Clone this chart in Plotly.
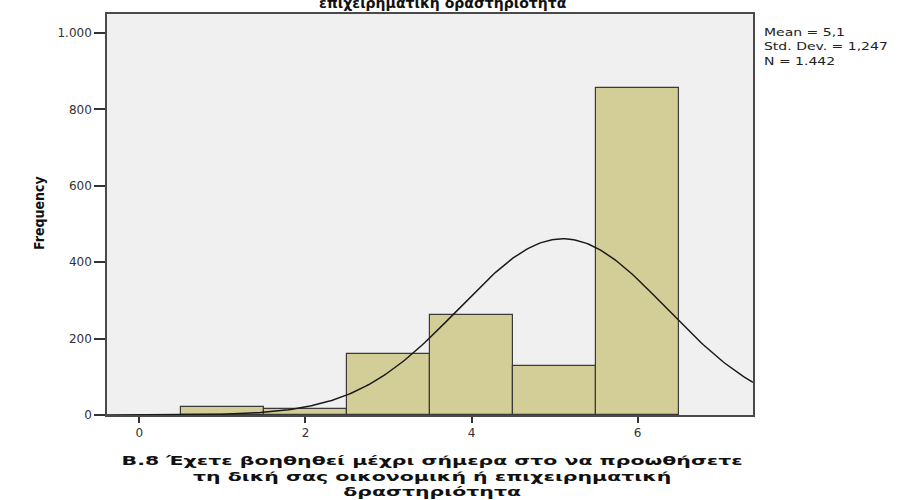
import numpy as np
import plotly.graph_objects as go

# Data
categories = [1, 2, 3, 4, 5, 6]
frequencies = [22, 15, 160, 262, 128, 855]
x_tick_vals = [0, 2, 4, 6]
x_tick_text = ["0", "2", "4", "6"]
y_tick_vals = [0, 200, 400, 600, 800, 1000]
y_tick_text = ["0", "200", "400", "600", "800", "1.000"]

# Summary statistics shown on the chart
mean_val = 5.1
std_val = 1.247
n_val = 1442
bin_width = 1.0
stats_lines = ["Mean = 5,1", "Std. Dev. = 1,247", "N = 1.442"]

x_title_lines = ["Β.8 Έχετε βοηθηθεί μέχρι σήμερα στο να προωθήσετε",
                 "τη δική σας οικονομική ή επιχειρηματική",
                 "δραστηριότητα"]
top_title_visible = "επιχειρηματική δραστηριότητα"

x_range = [-0.39, 7.39]
y_range = [0, 1050]

curve_x = np.linspace(x_range[0], x_range[1], 300)
curve_y = n_val * bin_width * np.exp(-0.5 * ((curve_x - mean_val) / std_val) ** 2) / (std_val * np.sqrt(2 * np.pi))

fig = go.Figure()
fig.add_trace(go.Bar(
    x=categories, y=frequencies, width=1.0,
    marker=dict(color="#D3CE97", line=dict(color="#3a3a3a", width=1.2)),
    showlegend=False, hoverinfo="x+y"))
fig.add_trace(go.Scatter(
    x=curve_x, y=curve_y, mode="lines",
    line=dict(color="#1a1a1a", width=1.5), showlegend=False, hoverinfo="skip"))

PLOT_TOP, PLOT_BOTTOM = 12, 415
PH = PLOT_BOTTOM - PLOT_TOP
def py(ypix):
    return (PLOT_BOTTOM - ypix) / PH
def px(xpix):
    return (xpix - 107) / 646

annotations = []
annotations.append(dict(
    text="<b>" + "<br>".join(x_title_lines) + "</b>", xref="paper", yref="paper",
    x=px(432), y=py(477), xanchor="center", yanchor="middle", align="center",
    showarrow=False, font=dict(size=12, color="#111111", family="DejaVu Sans, sans-serif")))
annotations.append(dict(
    text="<b>" + top_title_visible + "</b>", xref="paper", yref="paper",
    x=px(443), y=py(1), xanchor="center", yanchor="middle", showarrow=False,
    font=dict(size=14, color="#111111", family="DejaVu Sans, sans-serif")))
annotations.append(dict(
    text="<b>Frequency</b>", xref="paper", yref="paper", x=px(39), y=py(212),
    xanchor="center", yanchor="middle", textangle=-90, showarrow=False,
    font=dict(size=14, color="#111111", family="DejaVu Sans Condensed, DejaVu Sans, sans-serif")))
annotations.append(dict(
    text="<br>".join(stats_lines), xref="paper", yref="paper", x=px(762), y=py(45),
    xanchor="left", yanchor="middle", showarrow=False, align="left",
    font=dict(size=11, color="#222222", family="DejaVu Sans, sans-serif")))

fig.update_layout(
    width=899, height=500,
    margin=dict(l=107, r=146, t=12, b=85),
    paper_bgcolor="white", plot_bgcolor="#F0F0F0",
    font=dict(family="DejaVu Sans, sans-serif", color="#333333"),
    bargap=0,
    xaxis=dict(range=x_range, tickvals=x_tick_vals, ticktext=x_tick_text,
               showgrid=False, zeroline=False, ticks="outside", ticklen=6,
               tickcolor="#333333", tickwidth=1.5,
               tickfont=dict(size=12, color="#333333"),
               showline=True, linecolor="#4a4a4a", linewidth=1.5, mirror=True),
    yaxis=dict(range=y_range, tickvals=y_tick_vals, ticktext=y_tick_text,
               showgrid=False, zeroline=False, ticks="outside", ticklen=11,
               tickcolor="#333333", tickwidth=1.5,
               tickfont=dict(size=12, color="#333333"),
               showline=True, linecolor="#4a4a4a", linewidth=1.5, mirror=True),
    annotations=annotations,
)

post_js = """
document.body.style.margin = '0px';
var gd = document.getElementById('{plot_id}');
var texts = gd.querySelectorAll('g.annotation text.annotation-text');
texts.forEach(function (t) {
  var content = t.textContent;
  var w = t.getBBox().width;
  if (!(w > 0)) { return; }
  if (content.indexOf('προωθήσετε') >= 0) {
    t.style.transformBox = 'fill-box';
    t.style.transformOrigin = 'center';
    t.style.transform = 'scaleX(' + (622 / w) + ')';
  } else if (content.indexOf('Std. Dev.') >= 0) {
    t.style.transformBox = 'fill-box';
    t.style.transformOrigin = 'left center';
    t.style.transform = 'scaleX(' + (124 / w) + ')';
  }
});
"""

fig.write_html("out.html", config={"displayModeBar": False}, post_script=post_js)
